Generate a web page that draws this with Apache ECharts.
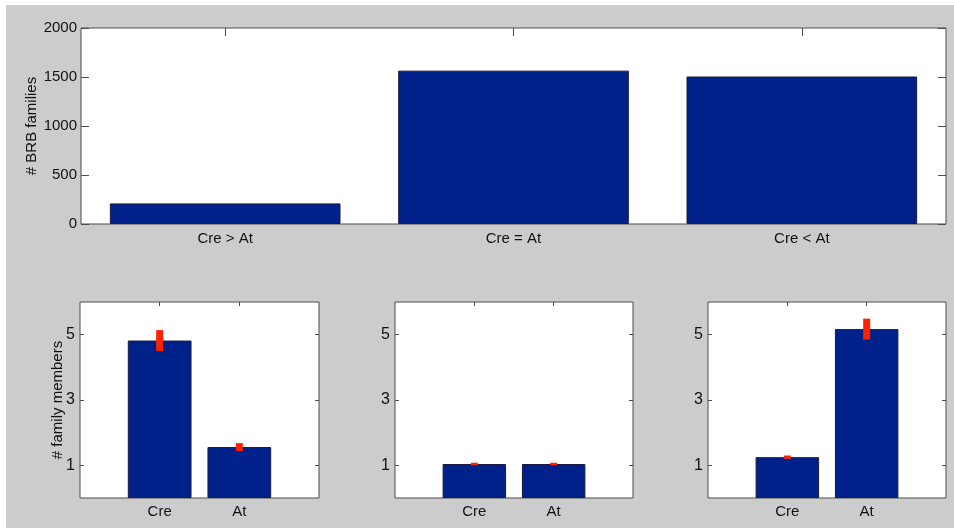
<!DOCTYPE html>
<html>
<head>
<meta charset="utf-8">
<script src="https://cdn.jsdelivr.net/npm/echarts@6/dist/echarts.min.js"></script>
<style>
  html, body { margin: 0; padding: 0; background: #ffffff; }
  #chart { width: 954px; height: 528px; }
</style>
</head>
<body>
<div id="chart"></div>
<script>
// Number of BRB families by relative family size
const familyCategories = ['Cre > At', 'Cre = At', 'Cre < At'];
const familyCounts = [210, 1565, 1505];
const familyTicks = [0, 500, 1000, 1500, 2000];

// Mean family members per organism in each group, with error
const memberCategories = ['Cre', 'At'];
const memberTicks = [1, 3, 5];
const creGreaterMean = [4.82, 1.56];
const creGreaterErr = [0.32, 0.12];
const equalMean = [1.04, 1.04];
const equalErr = [0.04, 0.04];
const creLessMean = [1.25, 5.17];
const creLessErr = [0.05, 0.32];

const FONT = 'Liberation Sans, Arial, Helvetica, sans-serif';
const BAR = '#00208a';
const BAR_EDGE = '#1b1b3e';
const ERR = '#ff2200';
const FRAME = '#4d4d4d';

const chart = echarts.init(document.getElementById('chart'), null, { renderer: 'canvas' });

// Category axis for the small panels: padded with empty slots so the two
// bars sit at 1 and 2 on a 0..3 range.
const paddedMembers = [''].concat(memberCategories, ['']);
const onMember = (idx) => idx >= 1 && idx <= memberCategories.length;

const grids = [
  { left: 81, top: 28, width: 865, height: 196 },
  { left: 80, top: 302, width: 239, height: 196 },
  { left: 395, top: 302, width: 238, height: 196 },
  { left: 708, top: 302, width: 238, height: 196 }
].map(g => Object.assign({ show: true, borderColor: FRAME, borderWidth: 1, backgroundColor: '#ffffff' }, g));

const xAxes = [];
const yAxes = [];
const series = [];

// Top panel axes
xAxes.push({
  gridIndex: 0, type: 'category', data: familyCategories, position: 'bottom',
  axisLine: { show: false, onZero: false },
  axisTick: { show: false },
  axisLabel: { color: '#111', fontFamily: FONT, fontSize: 15, margin: 7 }
});
xAxes.push({
  gridIndex: 0, type: 'category', data: familyCategories, position: 'top',
  axisLine: { show: false, onZero: false },
  axisTick: { show: true, inside: true, alignWithLabel: true, length: 8, lineStyle: { color: FRAME } },
  axisLabel: { show: false }
});
yAxes.push({
  gridIndex: 0, type: 'value', min: familyTicks[0], max: familyTicks[familyTicks.length - 1],
  interval: familyTicks[1] - familyTicks[0],
  name: '# BRB families', nameLocation: 'middle', nameGap: 42, nameMoveOverlap: false,
  nameTextStyle: { color: '#111', fontFamily: FONT, fontSize: 15 },
  axisLine: { show: false, onZero: false }, splitLine: { show: false },
  axisTick: { show: true, inside: true, length: 8, lineStyle: { color: FRAME } },
  axisLabel: { color: '#111', fontFamily: FONT, fontSize: 15, margin: 4, formatter: (v) => String(v) }
});
yAxes.push({
  gridIndex: 0, type: 'value', position: 'right', min: familyTicks[0], max: familyTicks[familyTicks.length - 1],
  interval: familyTicks[1] - familyTicks[0],
  axisLine: { show: false, onZero: false }, splitLine: { show: false },
  axisTick: { show: true, inside: true, length: 8, lineStyle: { color: FRAME } },
  axisLabel: { show: false }
});
series.push({
  type: 'bar', xAxisIndex: 0, yAxisIndex: 0, data: familyCounts,
  barWidth: '80%',
  itemStyle: { color: BAR, borderColor: BAR_EDGE, borderWidth: 1 },
  z: 3
});

// Small panels
const panels = [
  { mean: creGreaterMean, err: creGreaterErr, label: '# family members' },
  { mean: equalMean, err: equalErr, label: '' },
  { mean: creLessMean, err: creLessErr, label: '' }
];

panels.forEach((p, i) => {
  const gi = i + 1;
  const xBottom = xAxes.length;
  xAxes.push({
    gridIndex: gi, type: 'category', data: paddedMembers, boundaryGap: false, position: 'bottom',
    axisLine: { show: false, onZero: false },
    axisTick: { show: false },
    axisLabel: { color: '#111', fontFamily: FONT, fontSize: 15, margin: 6 }
  });
  xAxes.push({
    gridIndex: gi, type: 'category', data: paddedMembers, boundaryGap: false, position: 'top',
    axisLine: { show: false, onZero: false },
    axisTick: { show: true, inside: true, length: 4, interval: onMember, lineStyle: { color: FRAME } },
    axisLabel: { show: false }
  });
  const yLeft = yAxes.length;
  yAxes.push({
    gridIndex: gi, type: 'value', min: 0, max: 6,
    name: p.label, nameLocation: 'middle', nameGap: 15, nameMoveOverlap: false,
    nameTextStyle: { color: '#111', fontFamily: FONT, fontSize: 15 },
    axisLine: { show: false, onZero: false }, splitLine: { show: false },
    axisTick: { show: true, inside: true, length: 4, customValues: memberTicks, lineStyle: { color: FRAME } },
    axisLabel: { color: '#111', fontFamily: FONT, fontSize: 16, margin: 5, customValues: memberTicks }
  });
  yAxes.push({
    gridIndex: gi, type: 'value', position: 'right', min: 0, max: 6,
    axisLine: { show: false, onZero: false }, splitLine: { show: false },
    axisTick: { show: true, inside: true, length: 4, customValues: memberTicks, lineStyle: { color: FRAME } },
    axisLabel: { show: false, customValues: memberTicks }
  });

  const barData = ['-'].concat(p.mean, ['-']);
  series.push({
    type: 'bar', xAxisIndex: xBottom, yAxisIndex: yLeft, data: barData,
    barWidth: '80%',
    itemStyle: { color: BAR, borderColor: BAR_EDGE, borderWidth: 1 },
    z: 3
  });

  const errData = p.mean.map((m, k) => [k + 1, m, p.err[k]]);
  series.push({
    type: 'custom', xAxisIndex: xBottom, yAxisIndex: yLeft, data: errData, z: 5,
    renderItem: function (params, api) {
      const x = api.value(0);
      const m = api.value(1);
      const e = api.value(2);
      const hi = api.coord([x, m + e]);
      const lo = api.coord([x, m - e]);
      const w = 7;
      return {
        type: 'rect',
        shape: { x: hi[0] - w / 2, y: hi[1], width: w, height: Math.max(lo[1] - hi[1], 2) },
        style: { fill: ERR }
      };
    }
  });
});

chart.setOption({
  backgroundColor: '#cccccc',
  animation: false,
  graphic: [
    { type: 'rect', left: 0, top: 0, shape: { width: 6, height: 528 }, style: { fill: '#ffffff' }, silent: true },
    { type: 'rect', left: 0, top: 0, shape: { width: 954, height: 5 }, style: { fill: '#ffffff' }, silent: true }
  ],
  grid: grids,
  xAxis: xAxes,
  yAxis: yAxes,
  series: series
});
</script>
</body>
</html>
